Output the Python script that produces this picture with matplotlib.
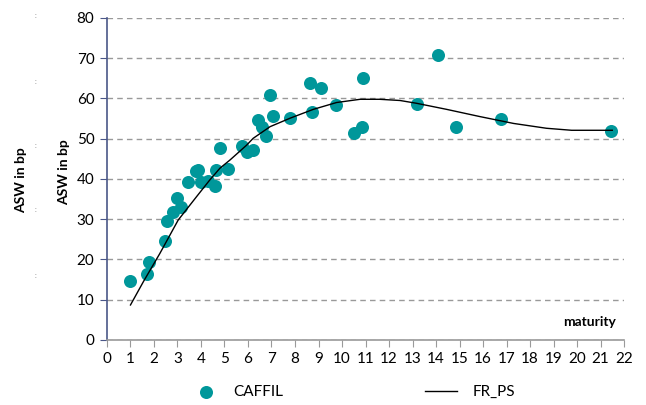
import numpy as np
import matplotlib
matplotlib.use('Agg')
import matplotlib.pyplot as plt

plt.rcParams['font.family'] = ['Lato', 'DejaVu Sans']

# CAFFIL observations (maturity, ASW in bp)
caffil_x = [0.96, 1.70, 1.80, 2.48, 2.57, 2.82, 2.98, 3.15, 3.46, 3.79, 3.88,
            4.00, 4.30, 4.58, 4.62, 4.79, 5.16, 5.74, 5.94, 6.20, 6.44, 6.61,
            6.77, 6.92, 7.08, 7.77, 8.62, 8.74, 9.11, 9.76, 10.50, 10.84,
            10.90, 13.20, 14.10, 14.86, 16.78, 21.46]
caffil_y = [14.6, 16.4, 19.3, 24.6, 29.6, 31.9, 35.4, 33.0, 39.2, 42.1, 42.3,
            39.2, 39.6, 38.3, 42.3, 47.8, 42.6, 48.3, 46.6, 47.2, 54.7, 52.9,
            50.8, 60.9, 55.6, 55.2, 63.9, 56.6, 62.5, 58.4, 51.4, 53.0,
            65.1, 58.7, 70.7, 52.8, 55.0, 51.8]

# FR_PS fitted curve
frps_x = [1.0, 1.55, 2.25, 3.03, 3.81, 4.38, 4.81, 5.23, 5.94, 6.22, 6.94,
          7.79, 8.78, 9.77, 10.77, 11.6, 12.47, 13.18, 14.45, 15.87, 17.3,
          18.7, 19.77, 21.5]
frps_y = [8.7, 14.5, 21.5, 29.8, 35.6, 39.8, 42.7, 44.7, 48.4, 50.1, 53.0,
          55.1, 57.3, 59.0, 59.8, 59.8, 59.5, 58.8, 57.3, 55.5, 53.8,
          52.6, 52.1, 52.1]

teal = '#00979a'
axis_blue = '#4a5788'

fig = plt.figure(figsize=(6.46, 4.05), dpi=100)
ax = fig.add_axes([0.1656, 0.1605, 0.8004, 0.7951])

sc = ax.scatter(caffil_x, caffil_y, s=88, color=teal, zorder=3, linewidths=0,
                label='CAFFIL')
ln, = ax.plot(frps_x, frps_y, color='black', lw=1.0, zorder=4, label='FR_PS')

ax.set_xlim(0, 22)
ax.set_ylim(0, 80)
ax.set_xticks(range(0, 23))
ax.set_yticks(range(0, 81, 10))
ax.yaxis.grid(True, linestyle=(0, (4, 3)), color='#999999', lw=1.0)
ax.set_axisbelow(True)

for s in ['top', 'right']:
    ax.spines[s].set_visible(False)
ax.spines['left'].set_color(axis_blue)
ax.spines['left'].set_linewidth(1.2)
ax.spines['bottom'].set_color('#9a9a9a')
ax.spines['bottom'].set_linewidth(1.2)
ax.tick_params(axis='y', direction='out', length=5, color=axis_blue,
               labelsize=11, pad=4)
ax.tick_params(axis='x', direction='out', length=5, color='#9a9a9a',
               labelsize=11, pad=4)

ax.text(0.985, 0.056, 'maturity', transform=ax.transAxes, ha='right',
        va='center', fontsize=10, fontweight='bold')

fig.text(21 / 646, 1 - 180 / 405, 'ASW in bp', rotation=90, ha='center',
         va='center', fontsize=10, fontweight='bold')
fig.text(64 / 646, 1 - 172 / 405, 'ASW in bp', rotation=90, ha='center',
         va='center', fontsize=10, fontweight='bold')

# faint stray marks on the far left
for yy in [16, 82, 146, 210, 276]:
    fig.text(35 / 646, 1 - yy / 405, ':', ha='center', va='center',
             fontsize=5, color='#888888')

fig.legend(handles=[sc], loc='center left',
           bbox_to_anchor=(198 / 646, 1 - 392 / 405), frameon=False,
           fontsize=11, handlelength=1.0, handletextpad=1.3,
           borderpad=0, borderaxespad=0)
fig.legend(handles=[ln], loc='center left',
           bbox_to_anchor=(425 / 646, 1 - 392 / 405), frameon=False,
           fontsize=11, handlelength=2.1, handletextpad=1.0,
           borderpad=0, borderaxespad=0)

fig.savefig('out.png', dpi=100)
